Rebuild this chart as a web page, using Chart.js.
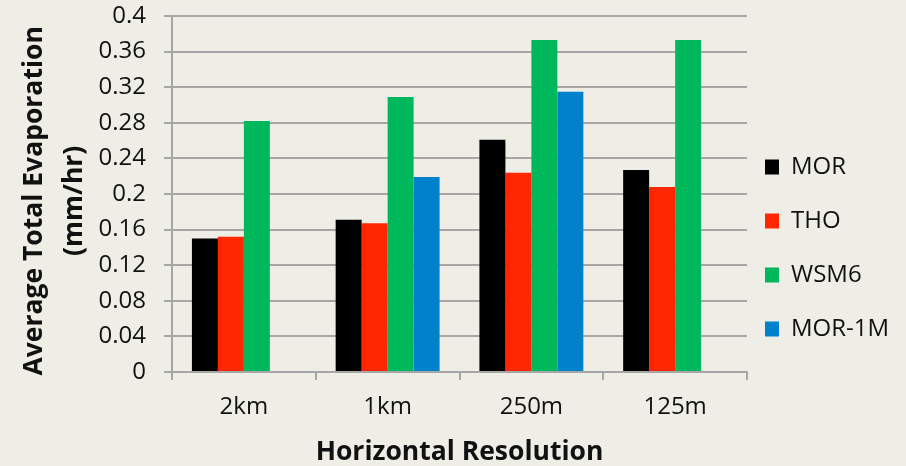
<!DOCTYPE html>
<html>
<head>
<meta charset="utf-8">
<script src="https://cdn.jsdelivr.net/npm/chart.js@4.4.1/dist/chart.umd.min.js"></script>
<style>
  html, body { margin: 0; padding: 0; background: #efeee6; }
  #wrap { width: 906px; height: 466px; position: relative; }
</style>
</head>
<body>
<div id="wrap"><canvas id="evapChart"></canvas></div>
<script>
// Values
const resolutions = ['2km', '1km', '250m', '125m'];
const morValues = [0.150, 0.171, 0.261, 0.227];
const thoValues = [0.152, 0.167, 0.224, 0.208];
const wsm6Values = [0.282, 0.309, 0.373, 0.373];
const mor1mValues = [null, 0.219, 0.315, null];

const seriesNames = ['MOR', 'THO', 'WSM6', 'MOR-1M'];
const seriesColors = ['#000000', '#ff2700', '#00b85c', '#0081cc'];
const seriesValues = [morValues, thoValues, wsm6Values, mor1mValues];

const gridGray = '#a6a6a6';
const textColor = '#111111';
const fontFamily = '"Open Sans", "DejaVu Sans", sans-serif';

// nudges the legend column to sit where the original one does
const legendNudge = {
    id: 'legendNudge',
    afterLayout(chart) {
        const lg = chart.legend;
        if (!lg) return;
        lg.left -= 12; lg.right -= 12;
        lg.top += 7; lg.bottom += 7;
    }
};

document.addEventListener('DOMContentLoaded', function() {
    const ctx = document.getElementById('evapChart').getContext('2d');

    new Chart(ctx, {
        type: 'bar',
        data: {
            labels: resolutions,
            datasets: seriesNames.map((name, i) => ({
                label: name,
                data: seriesValues[i],
                backgroundColor: seriesColors[i],
                borderWidth: 0,
                categoryPercentage: 0.723,
                barPercentage: 1.0
            }))
        },
        options: {
            responsive: true,
            maintainAspectRatio: false,
            animation: false,
            layout: { padding: { top: 16, right: 0, bottom: 0, left: 0 } },
            plugins: {
                tooltip: { enabled: false },
                legend: {
                    position: 'right',
                    maxWidth: 159,
                    labels: {
                        boxWidth: 14,
                        boxHeight: 15,
                        padding: 30,
                        color: textColor,
                        font: { family: fontFamily, size: 24 }
                    }
                }
            },
            scales: {
                x: {
                    afterFit(scale) { scale.height = 94; },
                    grid: {
                        drawOnChartArea: false,
                        drawTicks: true,
                        tickLength: 8,
                        color: gridGray,
                        lineWidth: 2
                    },
                    border: { color: gridGray, width: 2 },
                    ticks: {
                        padding: 13,
                        color: textColor,
                        font: { family: fontFamily, size: 24 }
                    },
                    title: {
                        display: true,
                        text: 'Horizontal Resolution',
                        color: textColor,
                        padding: { top: 0, bottom: 0 },
                        font: { family: fontFamily, size: 26.5, weight: 'bold', lineHeight: 1 }
                    }
                },
                y: {
                    min: 0,
                    max: 0.4,
                    afterFit(scale) {
                        scale.width = 172;
                        // label padding would otherwise push the plot top down
                        scale.paddingTop = 10;
                        scale.paddingBottom = 10;
                    },
                    grid: {
                        color: gridGray,
                        lineWidth: 2,
                        tickLength: 8
                    },
                    border: { color: gridGray, width: 2 },
                    ticks: {
                        stepSize: 0.04,
                        padding: 18,
                        color: textColor,
                        font: { family: fontFamily, size: 24 },
                        callback: v => String(Math.round(v * 100) / 100)
                    },
                    title: {
                        display: true,
                        text: ['Average Total Evaporation  ', '(mm/hr)  '],
                        color: textColor,
                        padding: { top: 15, bottom: 0 },
                        font: { family: fontFamily, size: 26.5, weight: 'bold', lineHeight: 1.49 }
                    }
                }
            }
        },
        plugins: [legendNudge]
    });
});
</script>
</body>
</html>
